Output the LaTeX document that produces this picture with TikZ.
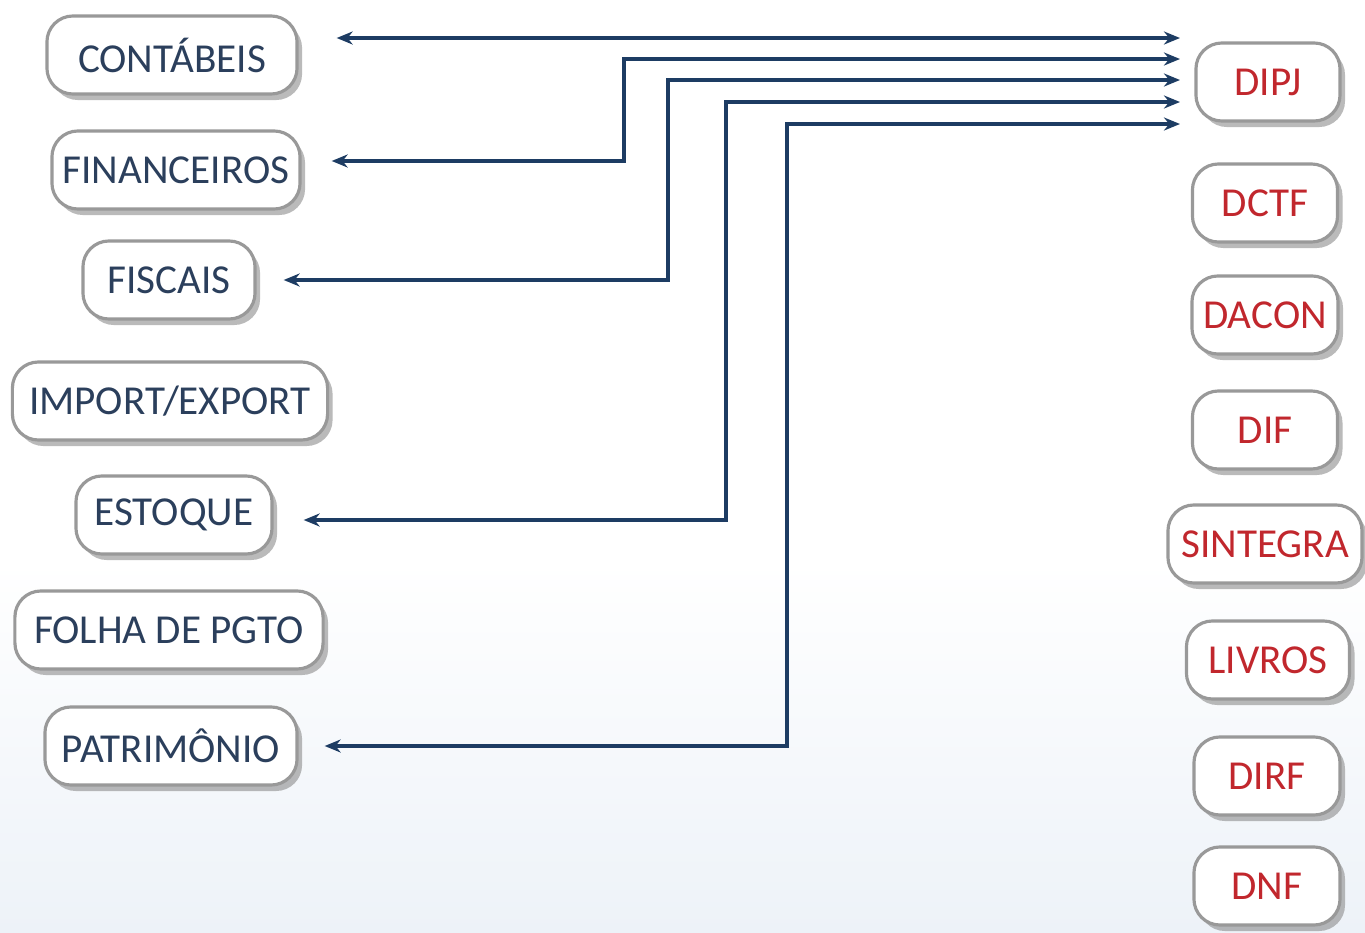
\documentclass[tikz,border=0pt]{standalone}
\usepackage{fontspec}
\setmainfont{Carlito}
\usetikzlibrary{arrows.meta}
\usetikzlibrary{shadows}

\definecolor{txtblue}{HTML}{2B3F5C}
\definecolor{txtred}{HTML}{C1272D}
\definecolor{linkblue}{HTML}{1D3C63}
\definecolor{bgblue}{HTML}{EDF2F8}

\tikzset{
  rbox/.style={draw=gray!80, line width=0.9pt, fill=white, rounded corners=0.26cm,
    minimum height=0.78cm, minimum width=#1, inner sep=0pt,
    font=\fontsize{11.7}{14}\selectfont,
    drop shadow={shadow xshift=0.05cm, shadow yshift=-0.06cm, fill=black!45, opacity=.6}},
  lbox/.style={rbox=#1, text=txtblue},
  dbox/.style={rbox=#1, text=txtred},
  link/.style={linkblue, line width=1pt, {Stealth[length=0.16cm,width=0.13cm]}-{Stealth[length=0.16cm,width=0.13cm]}}
}

\begin{document}
\begin{tikzpicture}[x=0.01cm, y=-0.01cm]

\useasboundingbox (0,0) rectangle (1365,933);
\fill[white] (0,0) rectangle (1365,933);
\shade[top color=white, bottom color=bgblue] (0,560) rectangle (1365,933);

% sources
\node[lbox=2.5cm]  (cont)   at (172,55)  {CONTÁBEIS};
\node[lbox=2.48cm] (fin)    at (176,170) {FINANCEIROS};
\node[lbox=1.72cm] (fisc)   at (169,280) {FISCAIS};
\node[lbox=3.15cm] (impexp) at (170,401) {IMPORT/EXPORT};
\node[lbox=1.96cm] (estq)   at (174,515) {ESTOQUE};
\node[lbox=3.08cm] (folha)  at (169,630) {FOLHA DE PGTO};
\node[lbox=2.52cm] (patr)   at (171,746) {PATRIMÔNIO};

% declarations
\foreach \n/\t/\x/\y/\w in {dipj/DIPJ/1268/82/1.44, dctf/DCTF/1265/203/1.45,
  dacon/DACON/1265/315/1.46, dif/DIF/1265/430/1.45, sintegra/SINTEGRA/1265/544/1.94,
  livros/LIVROS/1268/660/1.63, dirf/DIRF/1267/776/1.46, dnf/DNF/1267/886/1.46}
  \node[dbox=\w cm] (\n) at (\x,\y) {\t};

\coordinate (r1) at (1180,38);
\coordinate (r2) at (1180,59);
\coordinate (r3) at (1180,80);
\coordinate (r4) at (1180,102);
\coordinate (r5) at (1180,124);

\draw[link, shorten >=0.38cm] (r1) -- (r1 -| cont.east);
\draw[link, shorten >=0.3cm] (r2) -- (624,59) |- ([yshift=0.09cm]fin.east);
\draw[link, shorten >=0.27cm] (r3) -- (668,80) |- (fisc.east);
\draw[link, shorten >=0.3cm] (r4) -- (726,102) |- ([yshift=-0.05cm]estq.east);
\draw[link, shorten >=0.26cm] (r5) -- (787,124) |- (patr.east);

\end{tikzpicture}
\end{document}
